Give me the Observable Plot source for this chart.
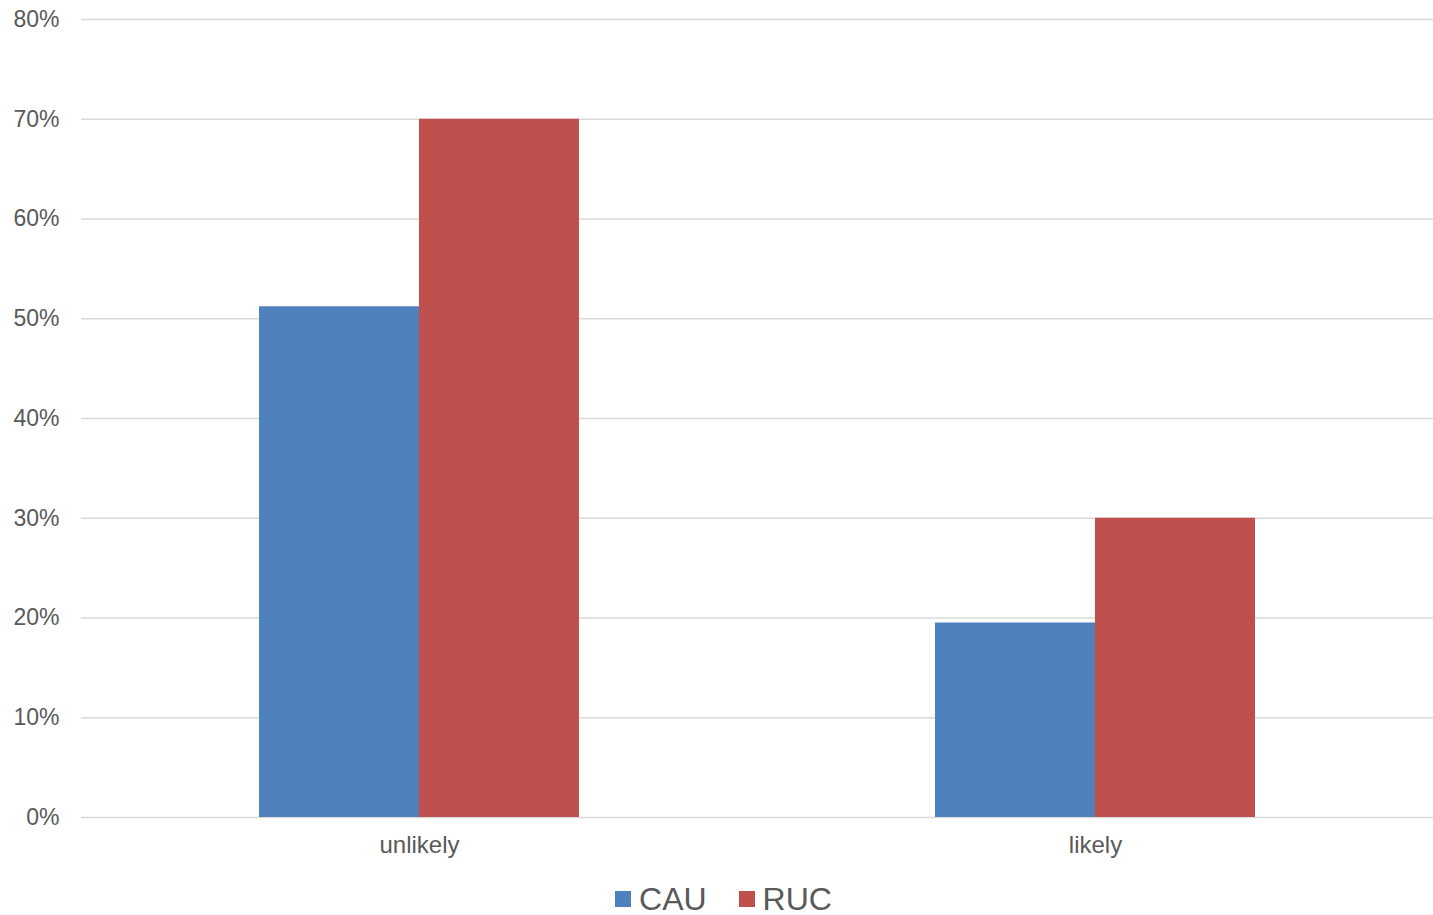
<!DOCTYPE html>
<html>
<head>
<meta charset="utf-8">
<script src="https://cdn.jsdelivr.net/npm/d3@7"></script>
<script src="https://cdn.jsdelivr.net/npm/@observablehq/plot@0.6"></script>
<style>
  html, body { margin: 0; padding: 0; background: #fff; }
  body { font-family: "Liberation Sans", Arial, sans-serif; }
  #chart svg { display: block; }
  #legend { display: flex; justify-content: center; align-items: center; margin-top: 15px; height: 28px; line-height: 28px; padding-left: 14px; color: #595959; font-size: 32px; }
  .item { display: flex; align-items: center; margin: 0 16px; height: 28px; }
  .sw { width: 16px; height: 16px; margin-right: 8px; }
</style>
</head>
<body>
<div id="chart"></div>
<div id="legend"></div>
<script>
const categories = ["unlikely", "likely"];
const series = ["CAU", "RUC"];
const cauValues = [0.512, 0.195];
const rucValues = [0.70, 0.30];
const yTicks = [0, 0.1, 0.2, 0.3, 0.4, 0.5, 0.6, 0.7, 0.8];
const colors = ["#4F81BD", "#C0504D"];

const rows = [];
categories.forEach((c, i) => {
  rows.push({category: c, series: "CAU", value: cauValues[i]});
  rows.push({category: c, series: "RUC", value: rucValues[i]});
});

const chart = Plot.plot({
  width: 1433,
  height: 870,
  marginLeft: 80,
  marginRight: 0,
  marginTop: 19,
  marginBottom: 53,
  style: {fontFamily: '"Liberation Sans", Arial, sans-serif', fontSize: "23px", color: "#595959", background: "#fff"},
  fx: {domain: categories, padding: 0, label: null},
  x: {domain: series, paddingInner: 0, paddingOuter: 1.1, axis: null},
  y: {domain: [0, 0.8], label: null},
  color: {domain: series, range: colors},
  marks: [
    Plot.ruleY(yTicks, {stroke: "#d9d9d9", strokeWidth: 1.6}),
    Plot.barY(rows, {fx: "category", x: "series", y: "value", fill: "series"}),
    Plot.axisY({ticks: yTicks, tickFormat: d3.format(".0%"), tickSize: 0, tickPadding: 22, label: null, fontSize: 23}),
    Plot.axisFx({tickSize: 0, tickPadding: 18, label: null, fontSize: 24, anchor: "bottom"})
  ]
});
document.getElementById("chart").appendChild(chart);

const legend = document.getElementById("legend");
series.forEach((s, i) => {
  const item = document.createElement("div");
  item.className = "item";
  const sw = document.createElement("div");
  sw.className = "sw";
  sw.style.background = colors[i];
  const t = document.createElement("span");
  t.textContent = s;
  item.appendChild(sw);
  item.appendChild(t);
  legend.appendChild(item);
});
</script>
</body>
</html>
